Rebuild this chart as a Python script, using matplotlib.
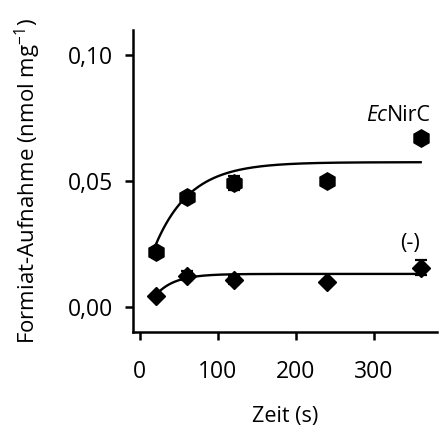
import numpy as np
import matplotlib
matplotlib.use('Agg')
import matplotlib.pyplot as plt
from matplotlib.ticker import FuncFormatter

# Messwerte
zeit = [20, 60, 120, 240, 360]
nirc = [0.022, 0.0437, 0.0492, 0.0500, 0.0671]
nirc_err = [0.0008, 0.0015, 0.0028, 0.0008, 0.0008]
leer = [0.0042, 0.0123, 0.0107, 0.0099, 0.0155]
leer_err = [0.0008, 0.0018, 0.0015, 0.0008, 0.0030]

fit_nirc = (0.0575, 0.0245, 0.0222)
fit_leer = (0.0131, 0.0046, 0.041)

plt.rcParams['font.family'] = ['Open Sans', 'DejaVu Sans']
plt.rcParams['mathtext.fontset'] = 'custom'
plt.rcParams['mathtext.rm'] = 'Open Sans'
plt.rcParams['mathtext.it'] = 'Open Sans:italic'

fig = plt.figure(figsize=(4.46, 4.36), dpi=100)
ax = fig.add_axes([0.298, 0.239, 0.682, 0.692])

t = np.linspace(20, 360, 200)
for (p, y0, k) in [fit_nirc, fit_leer]:
    ax.plot(t, p - (p - y0) * np.exp(-k * (t - 20)), color='black', lw=1.7, zorder=2)

ax.errorbar(zeit, nirc, yerr=nirc_err, fmt='h', color='black', ms=12.5,
            capsize=4, elinewidth=1.6, capthick=1.6, zorder=3)
ax.errorbar(zeit, leer, yerr=leer_err, fmt='D', color='black', ms=9,
            capsize=4, elinewidth=1.6, capthick=1.6, zorder=3)

# Beschriftung: "Ec" kursiv + "NirC"
t1 = ax.text(290, 0.0762, 'Ec', fontsize=15.5, style='italic', ha='left', va='center')
ax.annotate('NirC', xy=(1, 0.5), xycoords=t1, fontsize=15.5, ha='left', va='center')
ax.text(346, 0.0250, '(-)', fontsize=15.5, ha='center', va='center')

ax.set_xlim(-9, 381)
ax.set_ylim(-0.0099, 0.110)
ax.set_xticks([0, 100, 200, 300])
ax.set_yticks([0.0, 0.05, 0.10])
ax.yaxis.set_major_formatter(FuncFormatter(lambda v, pos: f'{v:.2f}'.replace('.', ',')))

for s in ['top', 'right']:
    ax.spines[s].set_visible(False)
for s in ['left', 'bottom']:
    ax.spines[s].set_linewidth(1.8)
ax.tick_params(direction='out', length=6, width=1.8, labelsize=16.5, pad=8)
ax.tick_params(axis='x', pad=14)

ax.set_xlabel('Zeit (s)', fontsize=15.5, labelpad=16)
ax.set_ylabel('Formiat-Aufnahme (nmol mg$^{-1}$)', fontsize=16, labelpad=18)

fig.savefig('out.png', dpi=100)
